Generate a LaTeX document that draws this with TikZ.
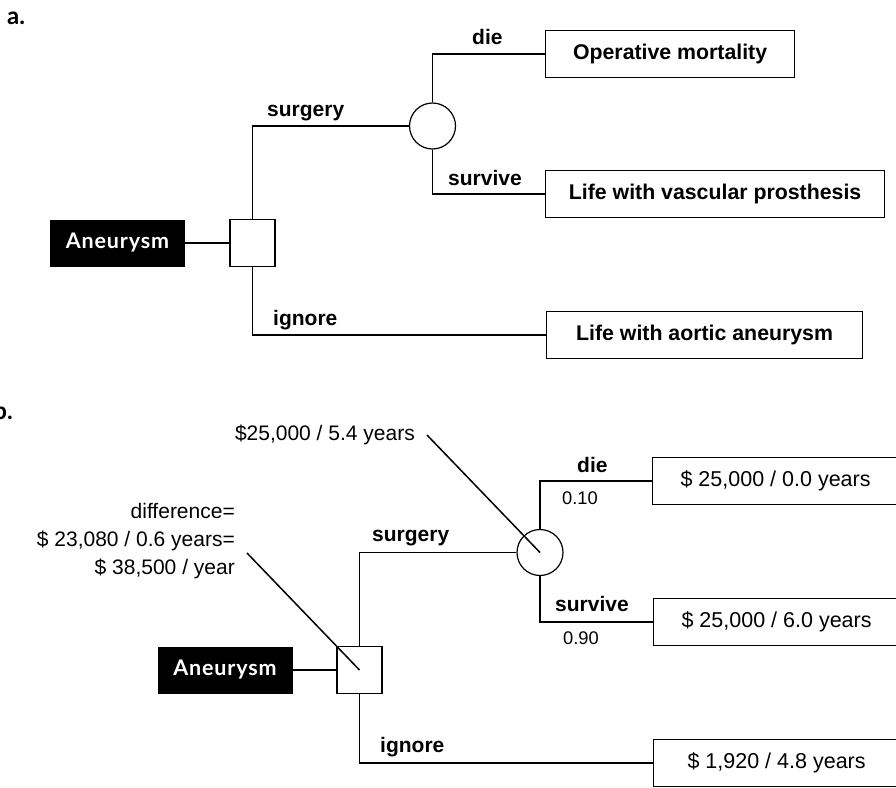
\documentclass[tikz,border=0pt]{standalone}
\usepackage{fontspec}
\setmainfont{Liberation Sans}
\newfontfamily\tagfont{Lato}[LetterSpace=4]
\newfontfamily\partfont{Lato}
\begin{document}
\begin{tikzpicture}[x=1pt,y=-1pt,
  tree/.style={line width=1.2pt},
  pointer/.style={line width=1.5pt},
  outcome/.style={draw, line width=1.2pt, minimum height=47pt, inner sep=0pt,
    anchor=west, font=\bfseries\fontsize{21.3}{25}\selectfont},
  payoff/.style={draw, line width=1.2pt, minimum height=47pt, inner sep=0pt,
    anchor=west, font=\fontsize{21.5}{25}\selectfont},
  start/.style={fill=black, text=white, minimum width=135pt, minimum height=47pt,
    inner sep=0pt, font=\tagfont\bfseries\fontsize{21.5}{25}\selectfont},
  decision/.style={draw, fill=white, line width=1.2pt, minimum width=45pt,
    minimum height=47pt, inner sep=0pt},
  chance/.style={draw, fill=white, circle, line width=1.2pt, minimum size=46pt, inner sep=0pt},
  branch/.style={inner sep=0pt, font=\bfseries\fontsize{21}{25}\selectfont},
  prob/.style={inner sep=0pt, font=\fontsize{18.3}{22}\selectfont},
  note/.style={inner sep=0pt, font=\fontsize{21}{28}\selectfont},
  part/.style={inner sep=0pt, font=\partfont\bfseries\fontsize{24}{28}\selectfont}]

\clip (0,0) rectangle (896,787);
\fill[white] (0,0) rectangle (896,787);

% ---------- a. decision tree with outcomes ----------
\node[part, anchor=base west] (parta) at (7,24) {a.};

\node[start] (aneA) at (117.5,243) {Aneurysm\hspace{13pt}};
\node[decision] (decA) at (252.5,243) {};
\node[chance] (chA) at (432.5,126) {};
\node[outcome, minimum width=249pt] (o1A) at (545,54) {Operative mortality};
\node[outcome, minimum width=339pt] (o2A) at (545,194) {Life with vascular prosthesis};
\node[outcome, minimum width=316pt] (o3A) at (546,335) {Life with aortic aneurysm};

\draw[tree] (aneA) -- (decA);
\draw[tree] (decA.north) |- (chA);
\draw[tree] (chA.north) |- (o1A.west);
\draw[tree] (chA.south) |- (o2A.west);
\draw[tree] (decA.south) |- (o3A.west);

\node[branch, anchor=base west] (surgA) at (267,116) {surgery};
\node[branch, anchor=base west] (dieA) at (472,44) {die};
\node[branch, anchor=base west] (survA) at (448,185) {survive};
\node[branch, anchor=base west] (ignA) at (273,325) {ignore};

% ---------- b. decision tree with costs and life expectancy ----------
\node[part, anchor=base east] (partb) at (13,419) {b.};

\node[start] (aneB) at (225,670) {Aneurysm\hspace{13pt}};
\node[decision] (decB) at (359.5,670) {};
\node[chance] (chB) at (540,552.5) {};
\node[payoff, minimum width=246pt] (o1B) at (652,481) {\$ 25,000 / 0.0 years};
\node[payoff, minimum width=246pt] (o2B) at (653,622) {\$ 25,000 / 6.0 years};
\node[payoff, minimum width=246pt] (o3B) at (653,763) {\$ 1,920 / 4.8 years};

\draw[tree] (aneB) -- (decB);
\draw[tree] (decB.north) |- (chB);
\draw[tree] (chB.north) |- (o1B.west);
\draw[tree] (chB.south) |- (o2B.west);
\draw[tree] (decB.south) |- (o3B.west);

\node[branch, anchor=base west] (surgB) at (372,541) {surgery};
\node[branch, anchor=base west] (dieB) at (577,472) {die};
\node[prob, anchor=base west] (pdie) at (562,504) {0.10};
\node[branch, anchor=base west] (survB) at (555,611) {survive};
\node[prob, anchor=base west] (psurv) at (563,644) {0.90};
\node[branch, anchor=base west] (ignB) at (380,752) {ignore};

% expected values pointing at the nodes
\node[note, anchor=base east] (evChance) at (415,440) {\$25,000 / 5.4 years};
\node[note, anchor=base east, align=right] (evDiff) at (235,574)
  {difference=\\\$ 23,080 / 0.6 years=\\\$ 38,500 / year};
\coordinate (tipChance) at (427,435);
\coordinate (tipDiff) at (247,553);
\draw[pointer] (tipChance) -- (chB.center);
\draw[pointer] (tipDiff) -- (decB.center);

\end{tikzpicture}
\end{document}
